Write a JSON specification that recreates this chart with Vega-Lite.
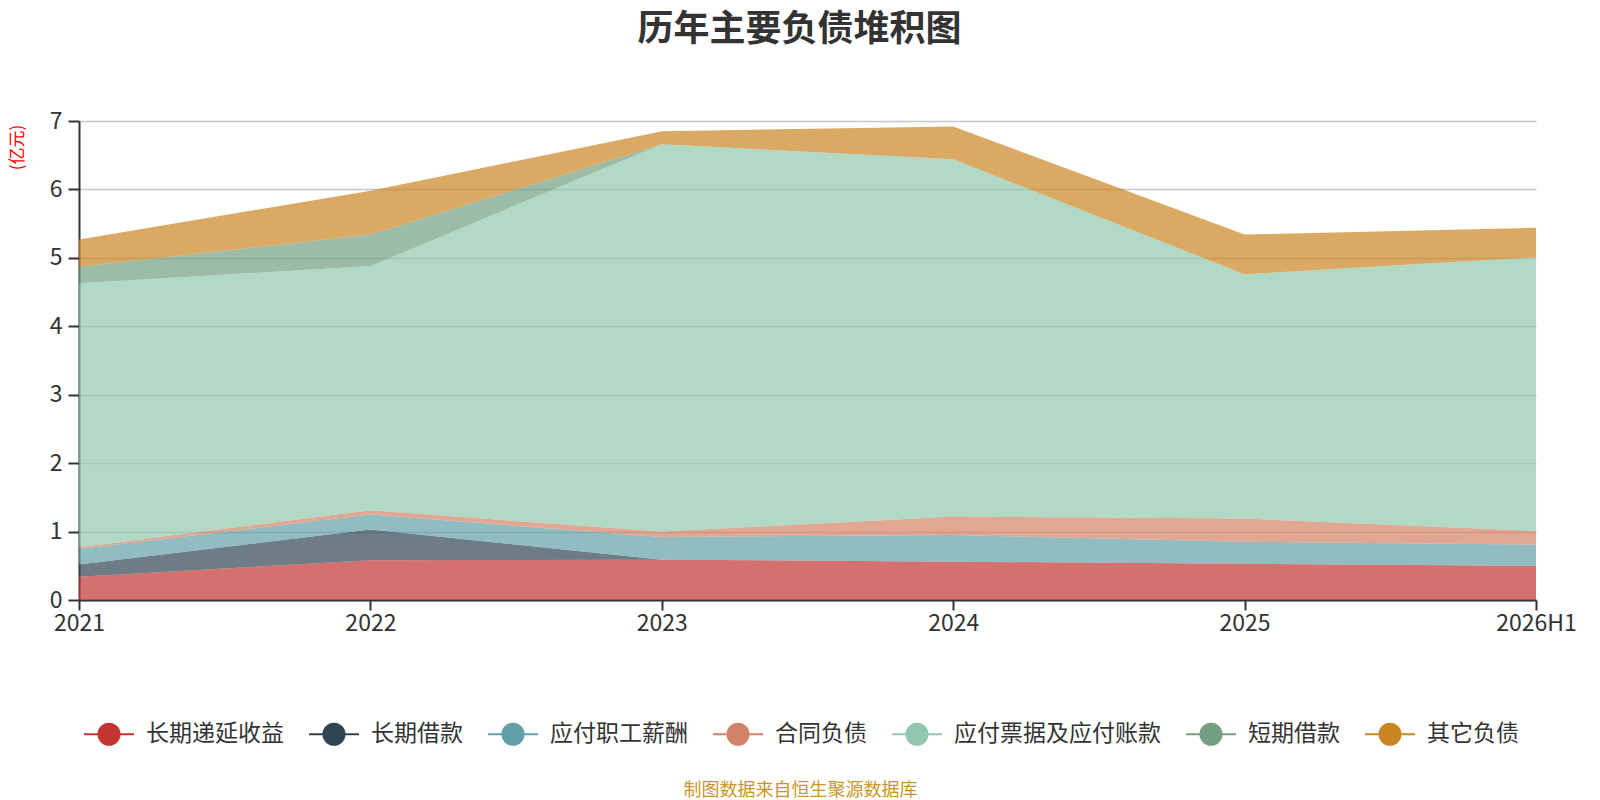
{
  "$schema": "https://vega.github.io/schema/vega-lite/v6.json",
  "width": 1457,
  "height": 479,
  "autosize": {"type": "none"},
  "padding": {"left": 79, "top": 121, "right": 64, "bottom": 200},
  "background": "#ffffff",
  "title": {
    "text": "历年主要负债堆积图",
    "font": "Noto Sans CJK SC",
    "fontSize": 36,
    "fontWeight": "bold",
    "color": "#333333",
    "anchor": "middle",
    "dx": -8,
    "offset": 61
  },
  "data": {
    "values": [
      {"year": "2021", "series": "长期递延收益", "o": 1, "value": 0.34},
      {"year": "2021", "series": "长期借款", "o": 2, "value": 0.18},
      {"year": "2021", "series": "应付职工薪酬", "o": 3, "value": 0.225},
      {"year": "2021", "series": "合同负债", "o": 4, "value": 0.025},
      {"year": "2021", "series": "应付票据及应付账款", "o": 5, "value": 3.86},
      {"year": "2021", "series": "短期借款", "o": 6, "value": 0.24},
      {"year": "2021", "series": "其它负债", "o": 7, "value": 0.40},
      {"year": "2022", "series": "长期递延收益", "o": 1, "value": 0.58},
      {"year": "2022", "series": "长期借款", "o": 2, "value": 0.45},
      {"year": "2022", "series": "应付职工薪酬", "o": 3, "value": 0.22},
      {"year": "2022", "series": "合同负债", "o": 4, "value": 0.06},
      {"year": "2022", "series": "应付票据及应付账款", "o": 5, "value": 3.57},
      {"year": "2022", "series": "短期借款", "o": 6, "value": 0.46},
      {"year": "2022", "series": "其它负债", "o": 7, "value": 0.64},
      {"year": "2023", "series": "长期递延收益", "o": 1, "value": 0.59},
      {"year": "2023", "series": "长期借款", "o": 2, "value": 0},
      {"year": "2023", "series": "应付职工薪酬", "o": 3, "value": 0.33},
      {"year": "2023", "series": "合同负债", "o": 4, "value": 0.08},
      {"year": "2023", "series": "应付票据及应付账款", "o": 5, "value": 5.66},
      {"year": "2023", "series": "短期借款", "o": 6, "value": 0},
      {"year": "2023", "series": "其它负债", "o": 7, "value": 0.19},
      {"year": "2024", "series": "长期递延收益", "o": 1, "value": 0.56},
      {"year": "2024", "series": "长期借款", "o": 2, "value": 0},
      {"year": "2024", "series": "应付职工薪酬", "o": 3, "value": 0.39},
      {"year": "2024", "series": "合同负债", "o": 4, "value": 0.27},
      {"year": "2024", "series": "应付票据及应付账款", "o": 5, "value": 5.22},
      {"year": "2024", "series": "短期借款", "o": 6, "value": 0},
      {"year": "2024", "series": "其它负债", "o": 7, "value": 0.48},
      {"year": "2025", "series": "长期递延收益", "o": 1, "value": 0.53},
      {"year": "2025", "series": "长期借款", "o": 2, "value": 0},
      {"year": "2025", "series": "应付职工薪酬", "o": 3, "value": 0.32},
      {"year": "2025", "series": "合同负债", "o": 4, "value": 0.34},
      {"year": "2025", "series": "应付票据及应付账款", "o": 5, "value": 3.57},
      {"year": "2025", "series": "短期借款", "o": 6, "value": 0},
      {"year": "2025", "series": "其它负债", "o": 7, "value": 0.58},
      {"year": "2026H1", "series": "长期递延收益", "o": 1, "value": 0.50},
      {"year": "2026H1", "series": "长期借款", "o": 2, "value": 0},
      {"year": "2026H1", "series": "应付职工薪酬", "o": 3, "value": 0.31},
      {"year": "2026H1", "series": "合同负债", "o": 4, "value": 0.20},
      {"year": "2026H1", "series": "应付票据及应付账款", "o": 5, "value": 4.00},
      {"year": "2026H1", "series": "短期借款", "o": 6, "value": 0},
      {"year": "2026H1", "series": "其它负债", "o": 7, "value": 0.43}
    ]
  },
  "mark": {"type": "area", "opacity": 0.7, "line": false},
  "encoding": {
    "x": {
      "field": "year",
      "type": "ordinal",
      "sort": ["2021", "2022", "2023", "2024", "2025", "2026H1"],
      "scale": {"type": "point", "padding": 0},
      "axis": {
        "title": "制图数据来自恒生聚源数据库",
        "titleFont": "Noto Sans CJK SC",
        "titleFontSize": 18,
        "titleFontWeight": "normal",
        "titleColor": "#c9952a",
        "titleX": 721,
        "titleY": 190,
        "titleAlign": "center",
        "titleBaseline": "middle",
        "labelAngle": 0,
        "labelFont": "Noto Sans CJK SC",
        "labelFontSize": 23,
        "labelColor": "#333333",
        "labelPadding": 2,
        "labelOverlap": false,
        "tickSize": 10,
        "tickWidth": 2,
        "tickColor": "#333333",
        "domainColor": "#333333",
        "domainWidth": 2,
        "grid": false
      }
    },
    "y": {
      "field": "value",
      "type": "quantitative",
      "stack": "zero",
      "scale": {"domain": [0, 7], "nice": false},
      "axis": {
        "title": "(亿元)",
        "titleFont": "Noto Sans CJK SC",
        "titleFontSize": 17,
        "titleFontWeight": "normal",
        "titleColor": "#ff0000",
        "titleX": -62,
        "titleY": 26,
        "titleAngle": -90,
        "titleAlign": "center",
        "titleBaseline": "middle",
        "values": [0, 1, 2, 3, 4, 5, 6, 7],
        "labelFont": "Noto Sans CJK SC",
        "labelFontSize": 23,
        "labelColor": "#333333",
        "labelPadding": 6,
        "tickSize": 11,
        "tickWidth": 2,
        "tickColor": "#333333",
        "domainColor": "#333333",
        "domainWidth": 2,
        "grid": true,
        "gridColor": "#c8c8c8",
        "gridWidth": 1.5
      }
    },
    "color": {
      "field": "series",
      "type": "nominal",
      "sort": ["长期递延收益", "长期借款", "应付职工薪酬", "合同负债", "应付票据及应付账款", "短期借款", "其它负债"],
      "scale": {
        "domain": ["长期递延收益", "长期借款", "应付职工薪酬", "合同负债", "应付票据及应付账款", "短期借款", "其它负债"],
        "range": ["#c23531", "#2f4554", "#61a0a8", "#d48265", "#91c7ae", "#749f83", "#ca8622"]
      },
      "legend": {
        "title": null,
        "orient": "none",
        "direction": "horizontal",
        "legendX": 4,
        "legendY": 587,
        "padding": 0,
        "symbolType": "M-1,0H1M0.42,0A0.42,0.42 0 1,1 -0.42,0A0.42,0.42 0 1,1 0.42,0Z",
        "symbolSize": 2500,
        "symbolStrokeWidth": 2,
        "symbolOpacity": 1,
        "labelFont": "Noto Sans CJK SC",
        "labelFontSize": 23,
        "labelColor": "#333333",
        "labelOffset": 11,
        "columnPadding": 21,
        "labelLimit": 400,
        "encode": {
          "symbols": {
            "update": {
              "stroke": {"scale": "color", "field": "value"},
              "fill": {"scale": "color", "field": "value"},
              "opacity": {"value": 1},
              "fillOpacity": {"value": 1},
              "strokeOpacity": {"value": 1}
            }
          }
        }
      }
    },
    "order": {"field": "o", "type": "quantitative"}
  },
  "config": {
    "view": {"stroke": null},
    "font": "Noto Sans CJK SC"
  }
}
